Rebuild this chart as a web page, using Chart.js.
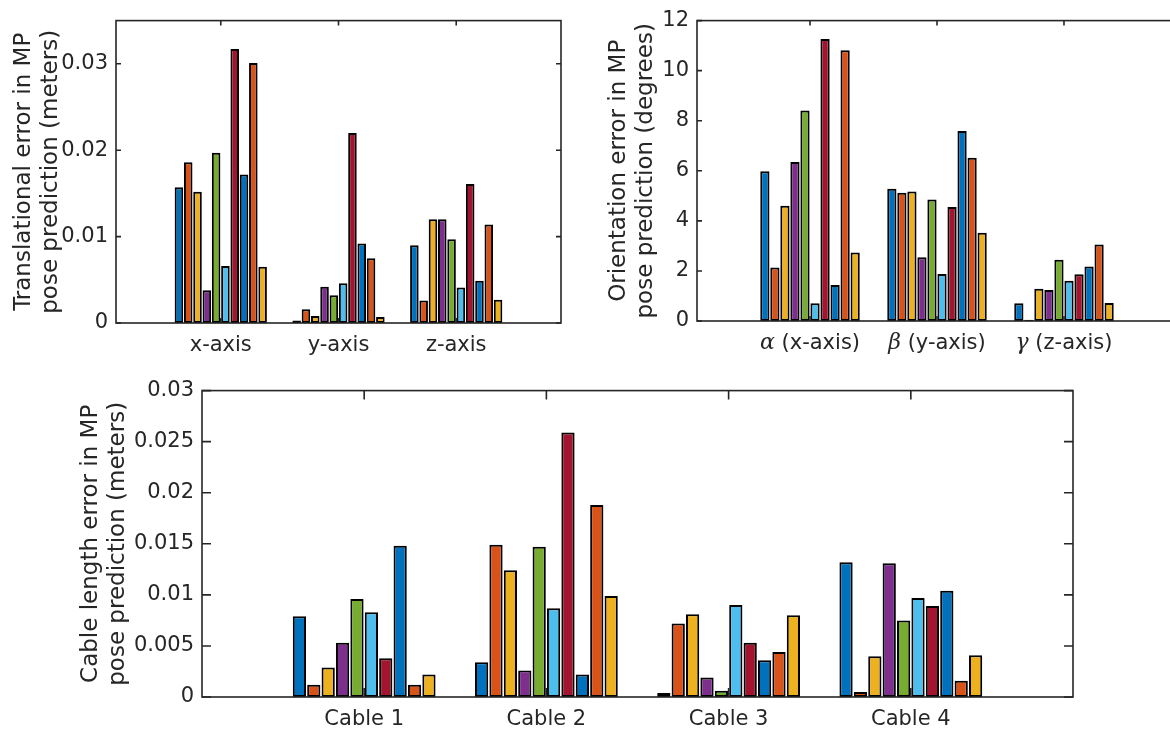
<!DOCTYPE html>
<html><head><meta charset="utf-8">
<script src="https://cdn.jsdelivr.net/npm/chart.js@4.4.0/dist/chart.umd.min.js"></script>
<style>
html,body{margin:0;padding:0;background:#fff;}
#wrap{position:relative;width:1170px;height:732px;overflow:hidden;background:#fff;}
canvas{position:absolute;}
</style></head><body>
<div id="wrap">
<canvas id="c1" width="600" height="365" style="left:0;top:0"></canvas>
<canvas id="c2" width="620" height="365" style="left:580px;top:0"></canvas>
<canvas id="c3" width="1170" height="362" style="left:0;top:370px"></canvas>
</div>
<script>
// ---------- DATA ----------
const transCategories = ['x-axis', 'y-axis', 'z-axis'];
const transXAxis = [0.0157, 0.0186, 0.0152, 0.0038, 0.0197, 0.0066, 0.0317, 0.0172, 0.0301, 0.0065];
const transYAxis = [0.0003, 0.0016, 0.0008, 0.0042, 0.0032, 0.0046, 0.0220, 0.0092, 0.0075, 0.0007];
const transZAxis = [0.0090, 0.0026, 0.0120, 0.0120, 0.0097, 0.0041, 0.0161, 0.0049, 0.0114, 0.0027];
const transTicks = [0, 0.01, 0.02, 0.03];
const transTickLabels = ['0', '0.01', '0.02', '0.03'];

const orientCategories = ['α (x-axis)', 'β (y-axis)', 'γ (z-axis)'];
const orientAlpha = [5.98, 2.14, 4.60, 6.35, 8.41, 0.71, 11.26, 1.44, 10.82, 2.74];
const orientBeta  = [5.28, 5.12, 5.17, 2.55, 4.85, 1.88, 4.55, 7.59, 6.52, 3.53];
const orientGamma = [0.71, 0.05, 1.29, 1.24, 2.45, 1.61, 1.87, 2.18, 3.06, 0.72];
const orientTicks = [0, 2, 4, 6, 8, 10, 12];
const orientTickLabels = ['0', '2', '4', '6', '8', '10', '12'];

const cableCategories = ['Cable 1', 'Cable 2', 'Cable 3', 'Cable 4'];
const cable1 = [0.0079, 0.0012, 0.0029, 0.0053, 0.0096, 0.0083, 0.0038, 0.0148, 0.0012, 0.0022];
const cable2 = [0.0034, 0.0149, 0.0124, 0.0026, 0.0147, 0.0087, 0.0259, 0.0022, 0.0188, 0.0099];
const cable3 = [0.0004, 0.0072, 0.0081, 0.0019, 0.0006, 0.0090, 0.0053, 0.0036, 0.0044, 0.0080];
const cable4 = [0.0132, 0.0005, 0.0040, 0.0131, 0.0075, 0.0097, 0.0089, 0.0104, 0.0016, 0.0041];
const cableTicks = [0, 0.005, 0.01, 0.015, 0.02, 0.025, 0.03];
const cableTickLabels = ['0', '0.005', '0.01', '0.015', '0.02', '0.025', '0.03'];

// ---------- STYLE ----------
const seriesColors = ['#0072BD', '#D95319', '#EDB120', '#7E2F8E', '#77AC30', '#4DBEEE', '#A2142F', '#0072BD', '#D95319', '#EDB120'];
const AX = '#262626';
const FONT = "'DejaVu Sans', sans-serif";
const GREEK_FONT = "italic 22px 'DejaVu Serif', 'Liberation Serif', serif";

const boxPlugin = {
  id: 'box',
  afterDatasetsDraw(chart, args, opts) {
    const {ctx, chartArea: {left, right, top, bottom}, scales: {x, y}} = chart;
    ctx.save();
    ctx.strokeStyle = AX;
    ctx.lineWidth = 1.6;
    ctx.strokeRect(left, top, right - left, bottom - top);
    const L = opts.len || 5;
    ctx.beginPath();
    y.ticks.forEach(t => {
      const py = y.getPixelForValue(t.value);
      ctx.moveTo(left, py); ctx.lineTo(left + L, py);
      ctx.moveTo(right, py); ctx.lineTo(right - L, py);
    });
    x.ticks.forEach(t => {
      const px = x.getPixelForValue(t.value);
      ctx.moveTo(px, top); ctx.lineTo(px, top + L);
      ctx.moveTo(px, bottom); ctx.lineTo(px, bottom - L);
    });
    ctx.stroke();
    // category labels with a Greek leading symbol drawn in italic serif
    if (opts.greek) {
      const cats = opts.greek;
      ctx.fillStyle = AX;
      ctx.textBaseline = 'alphabetic';
      cats.forEach((lab, i) => {
        const px = x.getPixelForValue(i + 1);
        const g = lab.slice(0, 1), rest = lab.slice(1);
        ctx.font = GREEK_FONT;
        const gw = ctx.measureText(g).width;
        ctx.font = "21px " + FONT;
        const rw = ctx.measureText(rest).width;
        const x0 = px - (gw + rw) / 2;
        const by = bottom + 28;
        ctx.font = GREEK_FONT;
        ctx.textAlign = 'left';
        ctx.fillText(g, x0, by);
        ctx.font = "21px " + FONT;
        ctx.fillText(rest, x0 + gw, by);
      });
    }
    ctx.restore();
  }
};

function makeChart(id, cfg) {
  const groups = cfg.groups;
  const datasets = seriesColors.map((c, s) => ({
    data: groups.map((g, i) => ({x: i + 1, y: g[s]})),
    backgroundColor: c,
    borderColor: '#000',
    borderWidth: 2,
    borderSkipped: false,
    categoryPercentage: 0.79,
    barPercentage: 0.92
  }));
  return new Chart(document.getElementById(id), {
    type: 'bar',
    data: {datasets},
    plugins: [boxPlugin],
    options: {
      responsive: false,
      animation: false,
      events: [],
      layout: {padding: {left: 0, right: cfg.padRight, top: cfg.padTop, bottom: 0}},
      plugins: {legend: {display: false}, tooltip: {enabled: false},
        box: {len: cfg.tickLen, greek: cfg.greek ? cfg.categories : null}},
      scales: {
        x: {
          type: 'linear',
          offset: false,
          bounds: 'data',
          min: 0.11,
          max: groups.length + 0.89,
          grid: {display: false, drawTicks: false, offset: false},
          border: {display: false},
          afterBuildTicks: s => { s.ticks = cfg.categories.map((c, i) => ({value: i + 1})); },
          afterFit: s => { s.height = cfg.xHeight; },
          ticks: {
            autoSkip: false, maxRotation: 0, padding: 10,
            color: cfg.greek ? 'rgba(0,0,0,0)' : AX,
            font: {family: FONT, size: 21},
            callback: (v, i) => cfg.categories[i]
          }
        },
        y: {
          type: 'linear',
          min: 0,
          max: cfg.yMax,
          grid: {display: false, drawTicks: false},
          border: {display: false},
          afterBuildTicks: s => { s.ticks = cfg.ticks.map(v => ({value: v})); },
          afterFit: s => { s.width = cfg.yWidth; },
          ticks: {
            padding: 8, color: AX,
            font: {family: FONT, size: 21},
            callback: (v, i) => cfg.tickLabels[i]
          },
          title: {
            display: true,
            text: cfg.title,
            color: AX,
            font: {family: FONT, size: 23, lineHeight: 1.15},
            padding: {top: cfg.titlePad, bottom: 0}
          }
        }
      }
    }
  });
}

makeChart('c1', {
  groups: [transXAxis, transYAxis, transZAxis],
  categories: transCategories,
  ticks: transTicks, tickLabels: transTickLabels,
  yMax: 0.035,
  title: ['Translational error in MP', 'pose prediction (meters)'],
  yWidth: 116, padRight: 39, padTop: 19, xHeight: 42, titlePad: 11, tickLen: 5
});
makeChart('c2', {
  groups: [orientAlpha, orientBeta, orientGamma],
  categories: orientCategories,
  ticks: orientTicks, tickLabels: orientTickLabels,
  yMax: 12, greek: true,
  title: ['Orientation error in MP', 'pose prediction (degrees)'],
  yWidth: 117, padRight: 23, padTop: 14, xHeight: 44, titlePad: 26, tickLen: 5
});
makeChart('c3', {
  groups: [cable1, cable2, cable3, cable4],
  categories: cableCategories,
  ticks: cableTicks, tickLabels: cableTickLabels,
  yMax: 0.03,
  title: ['Cable length error in MP', 'pose prediction (meters)'],
  yWidth: 202, padRight: 97, padTop: 20, xHeight: 35, titlePad: 78, tickLen: 9
});
</script>
</body></html>
